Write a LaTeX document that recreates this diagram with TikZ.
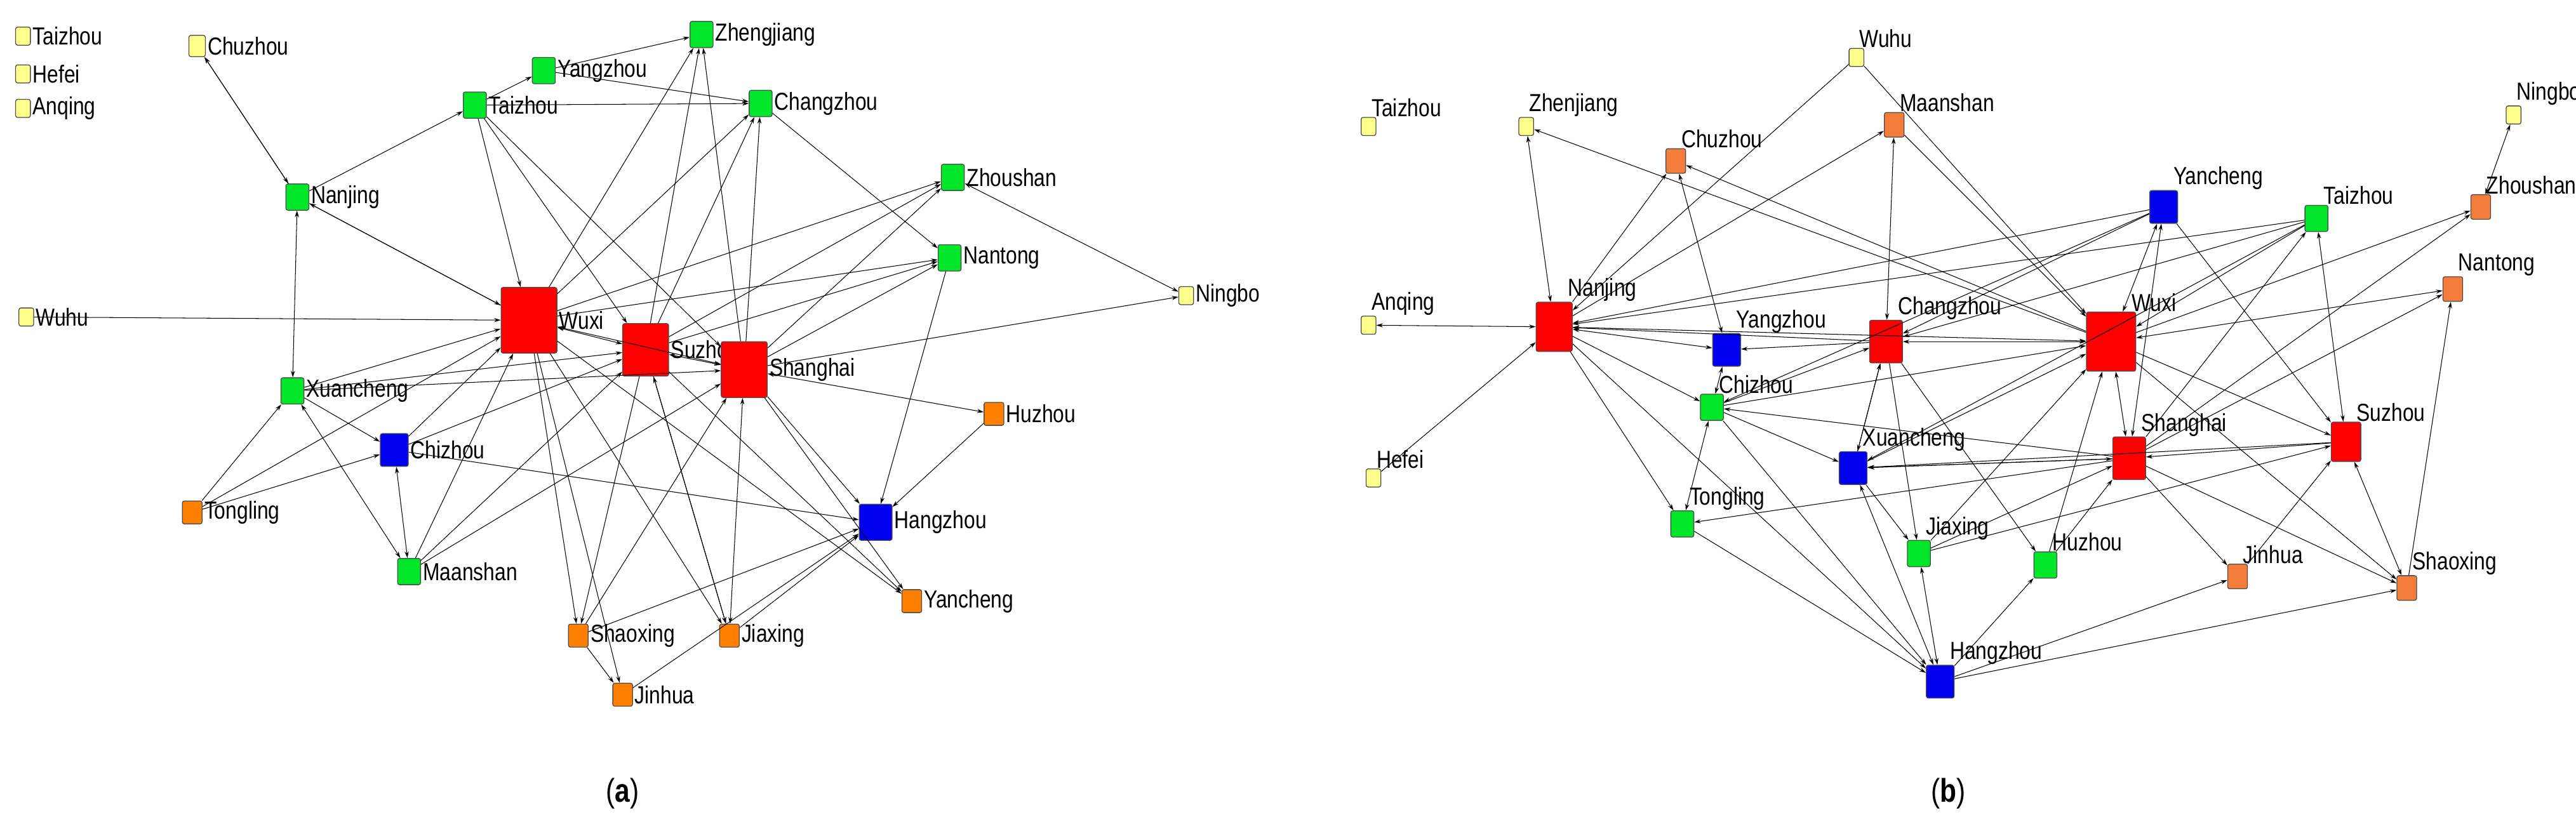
\documentclass[tikz,border=0pt]{standalone}
\usepackage{fontspec}
\setmainfont{Liberation Sans}[FakeStretch=0.82, BoldFont={Liberation Sans Bold}]
\usetikzlibrary{arrows.meta}
\definecolor{cred}{RGB}{255,0,0}
\definecolor{cgreen}{RGB}{0,230,40}
\definecolor{cblue}{RGB}{0,0,240}
\definecolor{corange}{RGB}{255,128,0}
\definecolor{clorange}{RGB}{245,125,60}
\definecolor{cyellow}{RGB}{255,255,140}
\tikzset{
  city/.style={draw=black!70, rounded corners=1.2pt, inner sep=0pt, line width=0.5pt},
  ty/.style={city, fill=cyellow, minimum width=9pt, minimum height=11pt},
  tg/.style={city, fill=cgreen, minimum width=14pt, minimum height=16pt},
  to/.style={city, fill=corange, minimum width=12pt, minimum height=14pt},
  tl/.style={city, fill=clorange, minimum width=12pt, minimum height=15pt},
  tb/.style={city, fill=cblue, minimum width=17pt, minimum height=20pt},
  tr/.style={city, fill=cred, minimum width=26pt, minimum height=30pt},
  lr/.style={label={[font=\fontsize{15}{17}\selectfont, inner sep=1pt]right:#1}},
  la/.style={label={[font=\fontsize{15}{17}\selectfont, inner sep=0pt, anchor=south west, xshift=-3pt]north east:#1}},
  lx/.style={label={[font=\fontsize{15}{17}\selectfont, inner sep=0pt, anchor=south east, xshift=2pt]north east:#1}},
  e/.style={-{Stealth[length=4pt,width=2.5pt]}, line width=0.4pt},
  ee/.style={{Stealth[length=4pt,width=2.5pt]}-{Stealth[length=4pt,width=2.5pt]}, line width=0.4pt}
}
\begin{document}
\begin{tikzpicture}[x=1pt,y=-1pt]
  \useasboundingbox (0,0) rectangle (1568,509);

  % panel (a)
  \node[ty, lr=Taizhou] (aty) at (14,22) {};
  \node[ty, lr=Hefei] (ahf) at (14,45) {};
  \node[ty, lr=Anqing] (aaq) at (14,66) {};
  \node[ty, lr=Chuzhou, minimum width=10pt, minimum height=13pt] (acz) at (120,28) {};
  \node[ty, lr=Wuhu] (awh) at (16,193) {};
  \node[ty, lr=Ningbo] (anb) at (722,180) {};
  \node[tg, lr=Yangzhou] (ayz) at (331,43) {};
  \node[tg, lr=Zhengjiang] (azj) at (427,21) {};
  \node[tg, lr=Taizhou] (atz) at (289,64) {};
  \node[tg, lr=Changzhou] (acg) at (463,63) {};
  \node[tg, lr=Nanjing] (anj) at (181,120) {};
  \node[tg, lr=Zhoushan] (azs) at (580,108) {};
  \node[tg, lr=Nantong] (ant) at (578,157) {};
  \node[tg, lr=Xuancheng] (axc) at (178,238) {};
  \node[tg, lr=Maanshan] (ams) at (249,348) {};
  \node[tr, lr=Wuxi, minimum width=34pt, minimum height=40pt] (awx) at (322,195) {};
  \node[tr, lr=Suzhou, minimum width=28pt, minimum height=32pt] (asz) at (393,213) {};
  \node[tr, lr=Shanghai, minimum width=28pt, minimum height=34pt] (ash) at (453,225) {};
  \node[tb, lr=Chizhou] (acz2) at (240,274) {};
  \node[tb, lr=Hangzhou, minimum width=20pt, minimum height=22pt] (ahz) at (533,318) {};
  \node[to, lr=Tongling] (atl) at (117,312) {};
  \node[to, lr=Huzhou] (ahu) at (605,252) {};
  \node[to, lr=Yancheng] (ayc) at (555,366) {};
  \node[to, lr=Shaoxing] (asx) at (352,387) {};
  \node[to, lr=Jiaxing] (ajx) at (444,387) {};
  \node[to, lr=Jinhua] (ajh) at (379,423) {};

  \foreach \s/\t in {anj/acz, anj/atz, atz/ayz, ayz/azj, ayz/acg, atz/acg, atz/awx, atz/asz,
    atz/ash, awx/azj, asz/azj, ash/azj, awx/acg, asz/acg, ash/acg, acg/ant, awx/azs, asz/azs,
    ash/azs, awx/ant, asz/ant, ash/ant, ash/anb, awh/awx, axc/awx, axc/asz, axc/ash, axc/acz2,
    atl/axc, atl/acz2, atl/awx, acz2/ahz, acz2/awx, acz2/asz, ams/awx, ams/asz, ams/ash,
    ahu/ahz, ant/ahz, ash/ahz, awx/ayc, ash/ayc, asz/ayc, awx/asx, asz/asx, asx/ash, asx/ahz,
    awx/ajx, asz/ajx, ajx/ahz, asx/ajh, awx/ajh, ajh/ahz, awx/anj}
    \draw[e] (\s) -- (\t);
  \foreach \s/\t in {acz/anj, anj/awx, azs/anb, awx/asz, asz/ash, awx/ash, ash/ahu, axc/ams,
    acz2/ams, ash/ajx, asz/ajx, anj/axc}
    \draw[ee] (\s) -- (\t);

  % panel (b)
  \node[ty, la=Taizhou] (bty) at (833,77) {};
  \node[ty, la=Zhenjiang] (bzj) at (929,77) {};
  \node[ty, la=Wuhu] (bwh) at (1130,35) {};
  \node[ty, la=Ningbo] (bnb) at (1530,70) {};
  \node[ty, la=Anqing] (baq) at (833,198) {};
  \node[ty, la=Hefei] (bhf) at (836,291) {};
  \node[tl, la=Maanshan] (bms) at (1153,76) {};
  \node[tl, la=Chuzhou] (bcz) at (1020,98) {};
  \node[tl, la=Zhoushan] (bzs) at (1510,126) {};
  \node[tl, la=Nantong] (bnt) at (1493,176) {};
  \node[tl, la=Jinhua] (bjh) at (1362,351) {};
  \node[tl, la=Shaoxing] (bsx) at (1465,358) {};
  \node[tb, la=Yancheng] (byc) at (1317,126) {};
  \node[tb, la=Yangzhou] (byz) at (1051,213) {};
  \node[tb, la=Xuancheng] (bxc) at (1128,285) {};
  \node[tb, la=Hangzhou] (bhz) at (1181,415) {};
  \node[tg, la=Taizhou] (btz) at (1410,133) {};
  \node[tg, la=Chizhou] (bch) at (1042,248) {};
  \node[tg, la=Tongling] (btl) at (1024,319) {};
  \node[tg, la=Jiaxing] (bjx) at (1168,337) {};
  \node[tg, la=Huzhou] (bhu) at (1245,344) {};
  \node[tr, la=Nanjing, minimum width=22pt, minimum height=30pt] (bnj) at (946,199) {};
  \node[tr, la=Changzhou, minimum width=20pt, minimum height=26pt] (bcg) at (1148,208) {};
  \node[tr, la=Wuxi, minimum width=30pt, minimum height=36pt] (bwx) at (1285,208) {};
  \node[tr, la=Shanghai, minimum width=20pt, minimum height=26pt] (bsh) at (1296,279) {};
  \node[tr, la=Suzhou, minimum width=18pt, minimum height=24pt] (bsz) at (1428,269) {};

  \foreach \s/\t in {bhf/bnj, bwh/bnj, bwh/bwx, bnj/bcz, bwx/bcz, bnj/bms, bms/bwx, bwx/bzj,
    byc/bnj, btz/bnj, byc/bcg, btz/bcg, btz/bwx, btz/bxc, byc/bch, bcg/byz, bcg/bnj, bch/bcg,
    bxc/bcg, bch/bwx, bxc/bwx, bjx/bwx, bhu/bwx, bsh/btl, bsh/bxc, bsh/bch, bsz/bsh, bsz/bxc,
    bjx/bsh, bhu/bsh, bjx/bsz, bsh/bnt, bsh/btz, bsh/bzs, bwx/bzs, bsx/bnt, bjh/bsz, bsh/bjh,
    bsh/bsx, bwx/bsz, bxc/bjx, bcg/bhu, bhz/bjh, bhz/bsx, bhz/bhu, bch/bxc, btl/bhz, bch/bhz,
    bnj/bch, bcg/bjx, byc/bsz, bwx/bsx, bnj/btl, bnj/bhz}
    \draw[e] (\s) -- (\t);
  \foreach \s/\t in {baq/bnj, bzj/bnj, bnj/byz, bcz/byz, bms/bcg, bcg/bwx, bwx/bnt, bwx/bnj,
    byc/bwx, byc/bsh, btz/bsz, bzs/bnb, bsz/bsx, bxc/bhz, bjx/bhz, byz/bch, bch/btl, bsh/bxc,
    bcg/bxc, bsh/bwx}
    \draw[ee] (\s) -- (\t);

  \node[font=\fontsize{20}{24}\selectfont] (capa) at (379,483) {(\textbf{a})};
  \node[font=\fontsize{20}{24}\selectfont] (capb) at (1186,483) {(\textbf{b})};
\end{tikzpicture}
\end{document}
